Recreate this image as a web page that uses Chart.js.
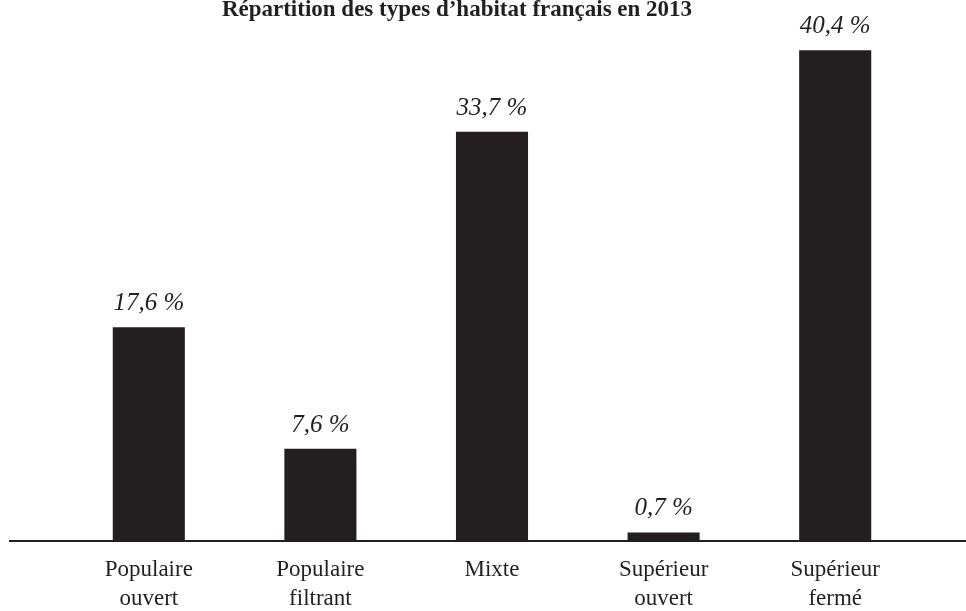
<!DOCTYPE html>
<html>
<head>
<meta charset="utf-8">
<script src="https://cdn.jsdelivr.net/npm/chart.js@4/dist/chart.umd.min.js"></script>
<style>
  html, body { margin: 0; padding: 0; background: #fff; }
  #wrap { width: 966px; height: 611px; position: relative; }
</style>
</head>
<body>
<div id="wrap"><canvas id="c" width="966" height="611"></canvas></div>
<script>
const titleText = "Répartition des types d’habitat français en 2013";
const categories = [["Populaire", "ouvert"], ["Populaire", "filtrant"], ["Mixte"], ["Supérieur", "ouvert"], ["Supérieur", "fermé"]];
const values = [17.6, 7.6, 33.7, 0.7, 40.4];
const valueLabels = ["17,6 %", "7,6 %", "33,7 %", "0,7 %", "40,4 %"];

const ink = '#231f20';
const serif = "'Liberation Serif', 'DejaVu Serif', serif";

const decor = {
  id: 'decor',
  afterDatasetsDraw(chart) {
    const ctx = chart.ctx;
    const area = chart.chartArea;
    ctx.save();
    // baseline
    ctx.strokeStyle = ink;
    ctx.lineWidth = 2;
    ctx.beginPath();
    ctx.moveTo(9, area.bottom);
    ctx.lineTo(chart.width, area.bottom);
    ctx.stroke();
    // value labels
    ctx.fillStyle = ink;
    ctx.font = "italic 25px " + serif;
    ctx.textAlign = 'center';
    ctx.textBaseline = 'alphabetic';
    chart.getDatasetMeta(0).data.forEach((bar, i) => {
      ctx.fillText(valueLabels[i], bar.x, bar.y - 17);
    });
    // title
    ctx.font = "bold 23px " + serif;
    ctx.fillText(titleText, 457, 16);
    ctx.restore();
  }
};

new Chart(document.getElementById('c'), {
  type: 'bar',
  data: {
    labels: categories,
    datasets: [{
      data: values,
      backgroundColor: ink,
      borderWidth: 0,
      categoryPercentage: 1,
      barPercentage: 0.42
    }]
  },
  options: {
    responsive: false,
    animation: false,
    devicePixelRatio: 1,
    layout: { padding: { left: 63, right: 45, top: 43, bottom: 0 } },
    plugins: { legend: { display: false }, tooltip: { enabled: false }, title: { display: false } },
    scales: {
      x: {
        grid: { display: false, drawTicks: false },
        border: { display: false },
        ticks: {
          color: ink,
          padding: 15,
          maxRotation: 0,
          autoSkip: false,
          font: { family: serif, size: 23, lineHeight: 1.24 }
        },
        afterFit(scale) { scale.height = 70; }
      },
      y: {
        display: false,
        min: 0,
        max: 41
      }
    }
  },
  plugins: [decor]
});
</script>
</body>
</html>
